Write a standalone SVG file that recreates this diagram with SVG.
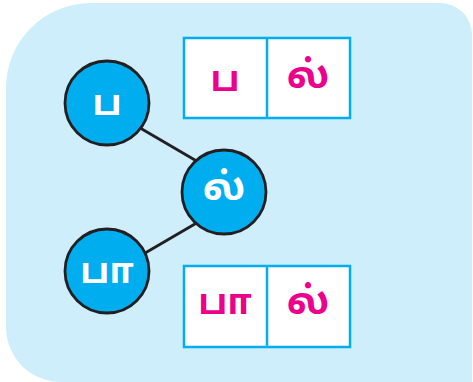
<svg xmlns="http://www.w3.org/2000/svg" width="473" height="382" viewBox="0 0 473 382">
<style>
.node circle{fill:#00AEEF;stroke:#231F20;stroke-width:2.8}
.node text{fill:#FFFFFF}
text{font-family:"Noto Sans Tamil","Latha","Noto Sans","DejaVu Sans",sans-serif;font-weight:bold;font-size:35px;text-anchor:middle;dominant-baseline:central}
text.l{font-size:38px}
.cell rect{fill:#FFFFFF;stroke:#00AEEF;stroke-width:2.5}
.cell line{stroke:#00AEEF;stroke-width:2.5}
.cell text{fill:#EC008C}
.conn line{stroke:#231F20;stroke-width:2.8}
</style>
<path d="M91,3 H440 A32,32 0 0 1 472,35 V382 H61 A55,55 0 0 1 6,327 V88 A85,85 0 0 1 91,3 Z" fill="#CDEEFA"/>
<g id="connectors" class="conn">
<line x1="135" y1="125" x2="200" y2="163"/>
<line x1="200" y1="221" x2="140" y2="256"/>
</g>
<g id="node-pa" class="node">
<circle cx="107" cy="103" r="42"/>
<text x="107" y="106">ப</text>
</g>
<g id="node-l" class="node">
<circle cx="224" cy="192" r="42"/>
<text class="l" x="224" y="190">ல்</text>
</g>
<g id="node-paa" class="node">
<circle cx="107" cy="271" r="42"/>
<text x="107" y="274">பா</text>
</g>
<g id="box-top" class="cell">
<rect x="184" y="38" width="166" height="80"/>
<line x1="267" y1="38" x2="267" y2="118"/>
<text x="225" y="82">ப</text>
<text class="l" x="308" y="78">ல்</text>
</g>
<g id="box-bottom" class="cell">
<rect x="184" y="266" width="166" height="81"/>
<line x1="267" y1="266" x2="267" y2="347"/>
<text x="225" y="305">பா</text>
<text class="l" x="308" y="304">ல்</text>
</g>
</svg>
